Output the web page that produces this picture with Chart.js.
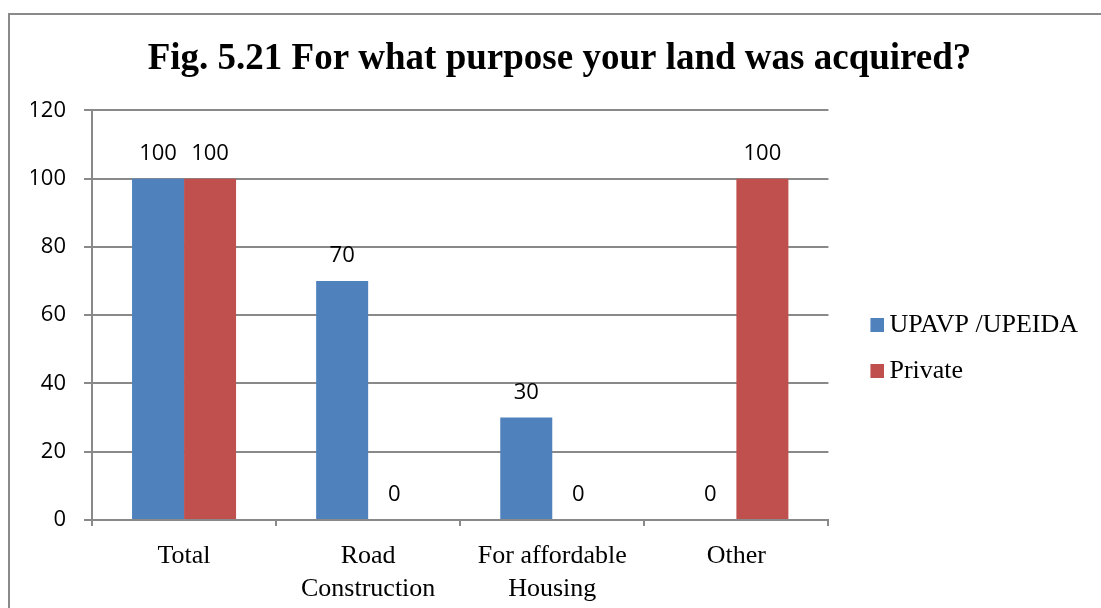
<!DOCTYPE html>
<html><head><meta charset="utf-8">
<script src="https://cdn.jsdelivr.net/npm/chart.js@4.4.0/dist/chart.umd.min.js"></script>
<style>
html,body{margin:0;padding:0;background:#fff;}
#frame{position:absolute;left:8px;top:13px;width:1200px;height:700px;border-left:2px solid #8a8a8a;border-top:2px solid #8a8a8a;}
#wrap{position:absolute;left:0;top:0;width:1101px;height:608px;}
</style></head>
<body>
<div id="frame"></div>
<div id="wrap"><canvas id="c" width="1101" height="608"></canvas></div>
<script>
const titleText = 'Fig. 5.21 For what purpose your land was acquired?';
const categories = [['Total'], ['Road', 'Construction'], ['For affordable', 'Housing'], ['Other']];
const seriesNames = ['UPAVP /UPEIDA', 'Private'];
const upavpValues = [100, 70, 30, 0];
const privateValues = [100, 0, 0, 100];
const yTicks = [0, 20, 40, 60, 80, 100, 120];
const seriesColors = ['#4F81BD', '#C0504D'];

const GRID = '#898989';
const SERIF = "'Liberation Serif', 'Times New Roman', serif";
const SANS = "'Open Sans', 'DejaVu Sans', sans-serif";

// legend marker images: 14px square placed at right part of a 44px wide transparent canvas
function markerFor(color) {
  const cv = document.createElement('canvas');
  cv.width = 44; cv.height = 14;
  const g = cv.getContext('2d');
  g.fillStyle = color;
  g.fillRect(30, 0, 14, 14);
  return cv;
}
const markers = seriesColors.map(markerFor);

const valueLabels = {
  id: 'valueLabels',
  afterDatasetsDraw(chart) {
    const ctx = chart.ctx;
    ctx.save();
    ctx.font = '22px ' + SANS;
    ctx.fillStyle = '#000';
    ctx.textAlign = 'center';
    ctx.textBaseline = 'alphabetic';
    chart.data.datasets.forEach((ds, di) => {
      const meta = chart.getDatasetMeta(di);
      meta.data.forEach((bar, i) => {
        ctx.fillText(String(ds.data[i]), bar.x, bar.y - 19);
      });
    });
    ctx.restore();
  }
};

new Chart(document.getElementById('c'), {
  type: 'bar',
  data: {
    labels: categories,
    datasets: [
      { label: seriesNames[0], data: upavpValues, backgroundColor: seriesColors[0], categoryPercentage: 0.565, barPercentage: 1.0 },
      { label: seriesNames[1], data: privateValues, backgroundColor: seriesColors[1], categoryPercentage: 0.565, barPercentage: 1.0 }
    ]
  },
  options: {
    responsive: false,
    animation: false,
    devicePixelRatio: 1,
    layout: { padding: { left: 31, right: 13, top: 0, bottom: 0 } },
    plugins: {
      title: {
        display: true, text: titleText, color: '#000',
        font: { family: SERIF, size: 37, weight: 'bold' },
        padding: { top: 37, bottom: 29 }
      },
      legend: {
        position: 'right',
        align: 'start',
        title: { display: true, text: ' ', padding: { top: 140, bottom: 140 }, font: { size: 10 } },
        labels: {
          usePointStyle: true, pointStyleWidth: 28,
          boxWidth: 14, boxHeight: 14, padding: 20, color: '#000',
          font: { family: SERIF, size: 26 },
          generateLabels(chart) {
            const items = Chart.defaults.plugins.legend.labels.generateLabels(chart);
            items.forEach((it) => { it.pointStyle = markers[it.datasetIndex]; });
            return items;
          }
        }
      },
      tooltip: { enabled: false }
    },
    scales: {
      x: {
        afterFit(s) { s.height = 88; },
        grid: { offset: true, drawOnChartArea: false, drawTicks: true, tickLength: 6, color: GRID, lineWidth: 2 },
        border: { display: true, color: GRID, width: 2 },
        ticks: { color: '#000', font: { family: SERIF, size: 26, lineHeight: 1.25 }, padding: 14, maxRotation: 0, autoSkip: false }
      },
      y: {
        min: 0, max: 120,
        afterFit(s) { s.width = 61; },
        afterBuildTicks(s) { s.ticks = yTicks.map(v => ({ value: v })); },
        grid: { color: GRID, lineWidth: 2, tickLength: 8 },
        border: { display: true, color: GRID, width: 2 },
        ticks: { color: '#000', font: { family: SANS, size: 22 }, padding: 18 }
      }
    }
  },
  plugins: [valueLabels]
});
</script>
</body></html>
